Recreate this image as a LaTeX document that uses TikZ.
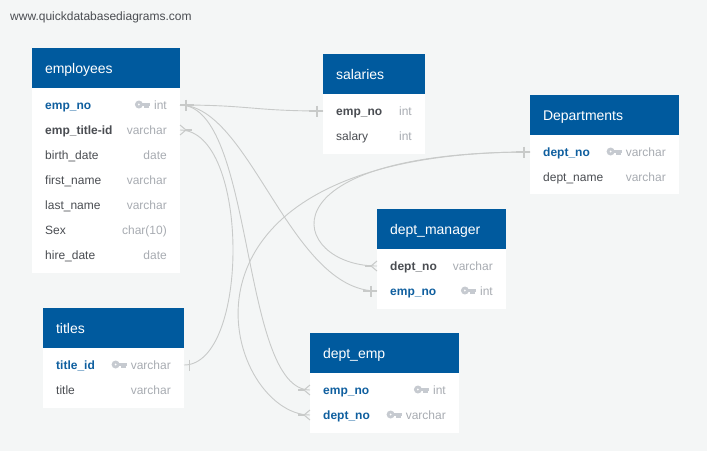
\documentclass[tikz,border=0pt]{standalone}
\usepackage{fontspec}
\setmainfont{Liberation Sans}
\usetikzlibrary{positioning,calc}
\definecolor{dbpage}{HTML}{F4F6F6}
\definecolor{dbhead}{HTML}{005A9E}
\definecolor{dbkey}{HTML}{0F5F9F}
\definecolor{dbtext}{HTML}{4A4D52}
\definecolor{dbtype}{HTML}{A8ACB2}
\definecolor{dbicon}{HTML}{C6CAD0}
\definecolor{dbline}{HTML}{C8CAC9}

\tikzset{
  headbox/.style={fill=dbhead, text=white, font=\fontsize{14}{16}\selectfont, anchor=north west,
    minimum width=#1, text width=#1-26pt, minimum height=40pt, inner xsep=13pt, inner ysep=0pt,
    outer sep=0pt, align=left, text height=10pt, text depth=0pt},
  bodybox/.style={fill=white, minimum width=#1, outer sep=0pt, inner sep=0pt},
  rowbox/.style={minimum width=#1, minimum height=25pt, outer sep=0pt, inner sep=0pt},
  plainname/.style={text=dbtext},
  boldname/.style={text=dbtext, font=\fontsize{12}{14}\selectfont\bfseries},
  keyname/.style={text=dbkey, font=\fontsize{12}{14}\selectfont\bfseries},
  fieldname/.style={anchor=base west, inner sep=0pt, font=\fontsize{12}{14}\selectfont},
  fieldtype/.style={anchor=base east, inner sep=0pt, text=dbtype, font=\fontsize{12}{14}\selectfont},
  rel/.style={color=dbline, line width=0.9pt},
  relend/.style={color=dbline, line width=1.8pt},
  relfoot/.style={color=dbline, line width=1pt}
}

% one table row: id, placement, width, name style, name, type
\newcommand{\fieldrow}[6]{
  \node[rowbox=#3, #2] (#1) {};
  \node[fieldname, #4] (#1-name) at ($(#1.west)+(13,4.5)$) {#5};
  \node[fieldtype] (#1-type) at ($(#1.east)+(-13,4.5)$) {#6};
}
% key symbol left of the type
\newcommand{\keyicon}[1]{
  \coordinate (#1-key) at ($(#1-type.west |- #1.center)+(-4,-0.5)$);
  \fill[dbicon, even odd rule] ($(#1-key)+(-11,0)$) circle (4) circle (1.3);
  \fill[dbicon] ($(#1-key)+(-9,-1.6)$) rectangle ++(9,3.2);
  \fill[dbicon] ($(#1-key)+(-5.5,1)$) rectangle ++(4.8,2.8);
}
% relation ends
\newcommand{\oneend}[2]{
  \draw[relend] (#1) -- ($(#1)+(#2*14,0)$);
  \draw[relfoot, line width=1.6pt] ($(#1)+(#2*6,-5.5)$) -- ($(#1)+(#2*6,5.5)$);
}
\newcommand{\manyend}[2]{
  \draw[relend] ($(#1)+(#2*6,0)$) -- ($(#1)+(#2*12,0)$);
  \draw[relfoot] ($(#1)+(0,-5)$) -- ($(#1)+(#2*6,0)$) -- ($(#1)+(0,5)$);
}

\begin{document}
\begin{tikzpicture}[x=1pt,y=-1pt]
  \fill[dbpage, use as bounding box] (0,0) rectangle (707,451);
  \node[anchor=base west, inner sep=0pt, text=dbtext, font=\fontsize{12}{14}\selectfont] (site) at (10,20) {www.quickdatabasediagrams.com};

  % employees
  \node[headbox=148pt] (employees) at (32,48) {employees};
  \node[bodybox=148pt, minimum height=185pt, below=0pt of employees] (employees-body) {};
  \fieldrow{emp-no}{below=4.5pt of employees}{148pt}{keyname}{emp\_no}{int}
  \fieldrow{emp-title}{below=0pt of emp-no}{148pt}{boldname}{emp\_title-id}{varchar}
  \fieldrow{birth}{below=0pt of emp-title}{148pt}{plainname}{birth\_date}{date}
  \fieldrow{first}{below=0pt of birth}{148pt}{plainname}{first\_name}{varchar}
  \fieldrow{last}{below=0pt of first}{148pt}{plainname}{last\_name}{varchar}
  \fieldrow{sex}{below=0pt of last}{148pt}{plainname}{Sex}{char(10)}
  \fieldrow{hire}{below=0pt of sex}{148pt}{plainname}{hire\_date}{date}
  \keyicon{emp-no}

  % salaries
  \node[headbox=102pt] (salaries) at (323,54) {salaries};
  \node[bodybox=102pt, minimum height=60pt, below=0pt of salaries] (salaries-body) {};
  \fieldrow{sal-emp}{below=4.5pt of salaries}{102pt}{boldname}{emp\_no}{int}
  \fieldrow{sal-salary}{below=0pt of sal-emp}{102pt}{plainname}{salary}{int}

  % Departments
  \node[headbox=149pt] (departments) at (530,95) {Departments};
  \node[bodybox=149pt, minimum height=59pt, below=0pt of departments] (departments-body) {};
  \fieldrow{dep-no}{below=4.5pt of departments}{149pt}{keyname}{dept\_no}{varchar}
  \fieldrow{dep-name}{below=0pt of dep-no}{149pt}{plainname}{dept\_name}{varchar}
  \keyicon{dep-no}

  % dept_manager
  \node[headbox=129pt] (manager) at (377,209) {dept\_manager};
  \node[bodybox=129pt, minimum height=60pt, below=0pt of manager] (manager-body) {};
  \fieldrow{man-dept}{below=4.5pt of manager}{129pt}{boldname}{dept\_no}{varchar}
  \fieldrow{man-emp}{below=0pt of man-dept}{129pt}{keyname}{emp\_no}{int}
  \keyicon{man-emp}

  % titles
  \node[headbox=141pt] (titles) at (43,308) {titles};
  \node[bodybox=141pt, minimum height=60pt, below=0pt of titles] (titles-body) {};
  \fieldrow{tit-id}{below=4.5pt of titles}{141pt}{keyname}{title\_id}{varchar}
  \fieldrow{tit-title}{below=0pt of tit-id}{141pt}{plainname}{title}{varchar}
  \keyicon{tit-id}

  % dept_emp
  \node[headbox=149pt] (deptemp) at (310,333) {dept\_emp};
  \node[bodybox=149pt, minimum height=60pt, below=0pt of deptemp] (deptemp-body) {};
  \fieldrow{de-emp}{below=4.5pt of deptemp}{149pt}{keyname}{emp\_no}{int}
  \fieldrow{de-dept}{below=0pt of de-emp}{149pt}{keyname}{dept\_no}{varchar}
  \keyicon{de-emp}
  \keyicon{de-dept}

  % relations
  \draw[rel] (emp-no.east) .. controls +(70,0) and ($(sal-emp.west)+(-70,0)$) .. (sal-emp.west);
  \draw[rel] (emp-no.east) .. controls +(70,0) and ($(man-emp.west)+(-87,0)$) .. (man-emp.west);
  \draw[rel] (emp-no.east) .. controls +(75,0) and ($(de-emp.west)+(-70,0)$) .. (de-emp.west);
  \draw[rel] (tit-id.east) .. controls +(66,0) and ($(emp-title.east)+(70,0)$) .. (emp-title.east);
  \draw[rel] (dep-no.west) .. controls +(-390,0) and ($(de-dept.west)+(-85,0)$) .. (de-dept.west);
  \draw[rel] (dep-no.west) .. controls +(-275,0) and ($(man-dept.west)+(-87,0)$) .. (man-dept.west);

  \oneend{emp-no.east}{1}
  \oneend{sal-emp.west}{-1}
  \oneend{dep-no.west}{-1}
  \oneend{man-emp.west}{-1}
  \manyend{man-dept.west}{-1}
  \manyend{emp-title.east}{1}
  \manyend{de-emp.west}{-1}
  \manyend{de-dept.west}{-1}
  \draw[relfoot, line width=0.8pt] ($(tit-id.east)+(5,-5.5)$) -- ($(tit-id.east)+(5,5.5)$);
\end{tikzpicture}
\end{document}
